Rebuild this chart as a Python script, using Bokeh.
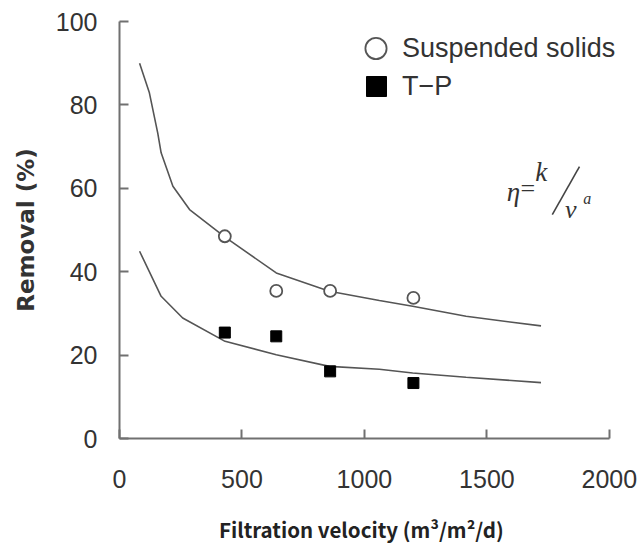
from bokeh.plotting import figure
from bokeh.models import Range1d, Legend, LegendItem, Label, FixedTicker
from bokeh.embed import file_html
from bokeh.resources import INLINE

# ---- data ----
velocity = [430, 640, 860, 1200]
ss_removal = [48.5, 35.4, 35.4, 33.7]
tp_removal = [25.4, 24.5, 16.1, 13.3]

ss_fit_x = [82, 122, 156, 170, 218, 286, 431, 640, 857, 1061, 1197, 1415, 1721]
ss_fit_y = [90.0, 82.9, 73.3, 68.5, 60.5, 54.9, 48.3, 39.7, 35.3, 33.1, 31.7, 29.3, 27.0]
tp_fit_x = [82, 170, 258, 431, 640, 857, 1061, 1197, 1415, 1721]
tp_fit_y = [44.9, 34.1, 28.9, 23.3, 20.1, 17.3, 16.6, 15.7, 14.7, 13.4]

x_ticks = [0, 500, 1000, 1500, 2000]
y_ticks = [0, 20, 40, 60, 80, 100]

# frame runs a little past 2000 so the legend text is not clipped; the axis stops at 2000
p = figure(frame_width=507, frame_height=417, output_backend="svg", toolbar_location=None,
           x_range=Range1d(0, 2070), y_range=Range1d(0, 100),
           min_border_left=119, min_border_top=21, min_border_right=14, min_border_bottom=100)
p.outline_line_color = None
p.grid.grid_line_color = None
p.background_fill_color = "white"

for ax in (p.xaxis[0], p.yaxis[0]):
    ax.axis_line_color = "#707070"
    ax.axis_line_width = 2
    ax.major_tick_line_color = "#707070"
    ax.major_tick_line_width = 2
    ax.major_tick_in = 9
    ax.major_tick_out = 0
    ax.minor_tick_in = 0
    ax.minor_tick_out = 0
    ax.major_label_text_font = "Liberation Sans"
    ax.major_label_text_font_size = "25px"
    ax.major_label_text_color = "#333333"

p.xaxis.bounds = (0, 2000)
p.xaxis.ticker = FixedTicker(ticks=x_ticks)
p.yaxis.ticker = FixedTicker(ticks=y_ticks)
p.xaxis.major_label_standoff = 31
p.yaxis.major_label_standoff = 22

p.yaxis.axis_label = "Removal (%)"
p.yaxis.axis_label_text_font = "DejaVu Sans"
p.yaxis.axis_label_text_font_style = "bold"
p.yaxis.axis_label_text_font_size = "23px"
p.yaxis.axis_label_text_color = "#333333"
p.yaxis.axis_label_standoff = 14

p.xaxis.axis_label = "Filtration velocity  (m\u00b3/m\u00b2/d)" + "\u00a0" * 4
p.xaxis.axis_label_text_font = "Noto Sans CJK KR"
p.xaxis.axis_label_text_font_style = "bold"
p.xaxis.axis_label_text_font_size = "20.5px"
p.xaxis.axis_label_text_color = "#222222"
p.xaxis.axis_label_standoff = 23

# fitted curves
p.line(ss_fit_x, ss_fit_y, line_color="#555555", line_width=1.6)
p.line(tp_fit_x, tp_fit_y, line_color="#555555", line_width=1.6)

# data points
r_ss = p.scatter(velocity, ss_removal, marker="circle", size=12,
                 fill_color="white", line_color="#555555", line_width=1.8)
r_tp = p.scatter(velocity, tp_removal, marker="square", size=11,
                 fill_color="black", line_color="black", line_width=1)

common = dict(orientation="vertical", padding=0, margin=0,
              label_text_font="Liberation Sans", label_text_font_size="27px",
              label_text_color="#333333",
              border_line_color=None, background_fill_alpha=0)
legend_ss = Legend(items=[LegendItem(label="Suspended solids", renderers=[r_ss])],
                   location=(230, 363), glyph_width=53, glyph_height=54,
                   label_standoff=0, **common)
legend_tp = Legend(items=[LegendItem(label="T\u2212P", renderers=[r_tp])],
                   location=(232, 327), glyph_width=50, glyph_height=50,
                   label_standoff=1, **common)
p.add_layout(legend_ss)
p.add_layout(legend_tp)

# formula  eta = k / v^a
serif = "Liberation Serif"
lab = dict(text_font=serif, text_align="center", text_baseline="middle", text_color="#333333")
p.add_layout(Label(x=1608, y=59.0, text="\u03b7", text_font_style="italic", text_font_size="27px", **lab))
p.add_layout(Label(x=1667, y=60.0, text="=", text_font_size="26px", **lab))
p.add_layout(Label(x=1722, y=64.0, text="k", text_font_style="italic", text_font_size="27px", **lab))
p.add_layout(Label(x=1842, y=54.8, text="v", text_font_style="italic", text_font_size="26px", **lab))
p.add_layout(Label(x=1910, y=57.6, text="a", text_font_style="italic", text_font_size="16px", **lab))
p.segment(x0=[1767], y0=[53.7], x1=[1878], y1=[65.2], line_color="#444444", line_width=1.6)

open("out.html", "w").write(file_html(p, INLINE))
